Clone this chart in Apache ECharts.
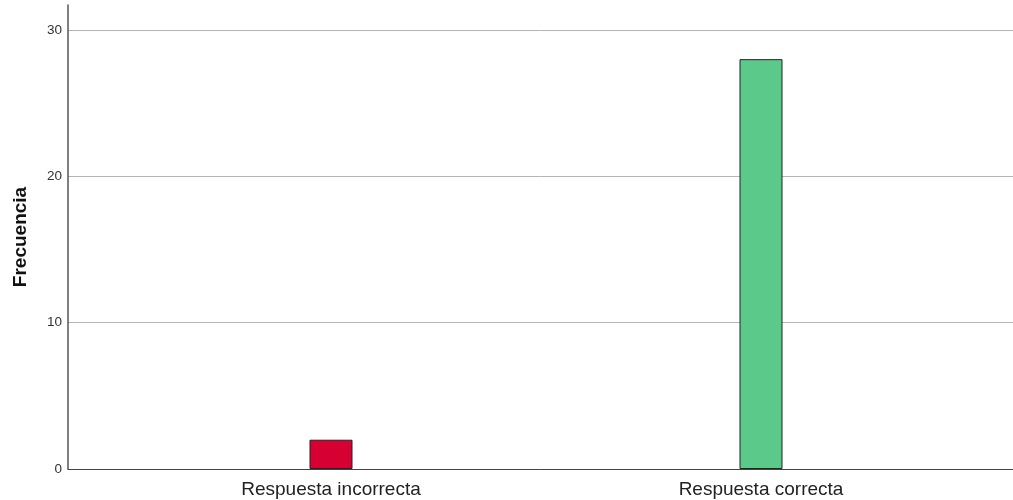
<!DOCTYPE html>
<html>
<head>
<meta charset="utf-8">
<script src="https://cdn.jsdelivr.net/npm/echarts@6/dist/echarts.min.js"></script>
<style>
html,body{margin:0;padding:0;background:#fff;}
#chart{width:1013px;height:500px;}
</style>
</head>
<body>
<div id="chart"></div>
<script>
// Frequency of answers
const categories = ['Respuesta incorrecta', 'Respuesta correcta'];
const counts = [2, 28];
const barColors = ['#d70033', '#5bc98a'];
const yTicks = [0, 10, 20, 30];

const chart = echarts.init(document.getElementById('chart'));
const yMax = 31.7;
const font = 'Liberation Sans, Arial, sans-serif';

chart.setOption({
  animation: false,
  grid: [
    { left: 68, right: 0, top: 5, bottom: 31 },
    { left: 116, right: 37, top: 5, bottom: 31 }
  ],
  xAxis: [
    {
      gridIndex: 0, type: 'value', min: 0, max: 1,
      axisLine: { show: true, lineStyle: { color: '#444', width: 1 } },
      axisTick: { show: false }, axisLabel: { show: false }, splitLine: { show: false }
    },
    {
      gridIndex: 1, type: 'category', data: categories,
      axisLine: { show: false }, axisTick: { show: false },
      axisLabel: { fontFamily: font, fontSize: 19, color: '#222', margin: 11 }
    }
  ],
  yAxis: [
    {
      gridIndex: 0, type: 'value', min: 0, max: yMax, interval: 10,
      name: 'Frecuencia', nameLocation: 'middle', nameGap: 38,
      nameTextStyle: { fontFamily: font, fontSize: 19, fontWeight: 'bold', color: '#111' },
      axisLine: { show: true, lineStyle: { color: '#555', width: 1.5 } },
      axisTick: { show: false },
      axisLabel: {
        fontFamily: font, fontSize: 13.5, color: '#333', margin: 6,
        showMaxLabel: false,
        formatter: v => (yTicks.includes(v) ? String(v) : '')
      },
      splitLine: { show: true, showMaxLine: false, lineStyle: { color: '#b4b4b4', width: 1 } }
    },
    {
      gridIndex: 1, type: 'value', min: 0, max: yMax, show: false
    }
  ],
  series: [
    {
      type: 'bar', xAxisIndex: 1, yAxisIndex: 1, barWidth: 43,
      data: counts.map((v, i) => ({
        value: v,
        itemStyle: { color: barColors[i], borderColor: '#222', borderWidth: 1 }
      }))
    }
  ]
});
</script>
</body>
</html>
